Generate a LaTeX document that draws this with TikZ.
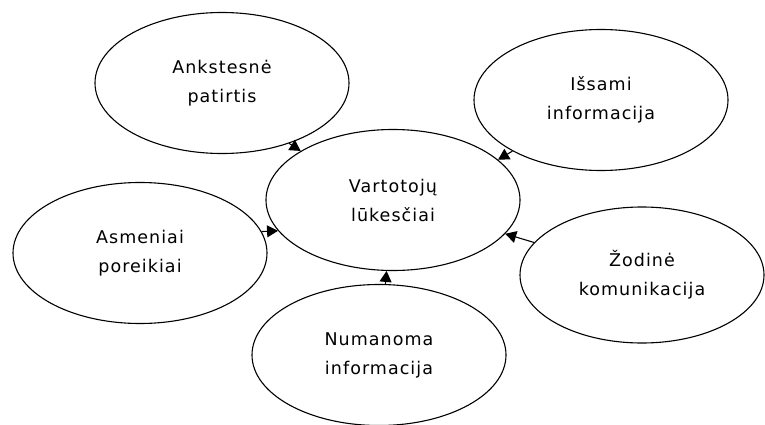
\documentclass[tikz,border=0pt]{standalone}
\usepackage{fontspec}
\setmainfont{DejaVu Sans}[LetterSpace=6]
\usetikzlibrary{shapes.geometric,arrows.meta}
\tikzset{
  bubble/.style={ellipse, draw=black, line width=1.1pt, minimum width=254pt, minimum height=141pt,
    inner sep=0pt, align=center, font=\fontsize{17.5}{29}\selectfont},
  link/.style={line width=1.1pt, -{Triangle[length=11pt,width=12pt]}}
}
\begin{document}
\begin{tikzpicture}[x=1pt,y=-1pt]
\useasboundingbox (0,0) rectangle (765,425);
\clip (0,0) rectangle (765,425);
\node[bubble] (C) at (393,200) {Vartotojų\\lūkesčiai};
\node[bubble] (A) at (222,83) {Ankstesnė\\patirtis};
\node[bubble] (I) at (601,100) {Išsami\\informacija};
\node[bubble] (P) at (140,253) {Asmeniai\\poreikiai};
\node[bubble, minimum width=244pt, minimum height=136pt] (Z) at (642,275) {Žodinė\\komunikacija};
\node[bubble] (N) at (379,355) {Numanoma\\informacija};
\draw[link] (A.-42) -- (C.152);
\draw[link] (I.-150) -- (C.21);
\draw[link] (P.10) -- (C.195);
\draw[link] (Z) -- (C);
\draw[link] (N) -- (C);
\end{tikzpicture}
\end{document}
